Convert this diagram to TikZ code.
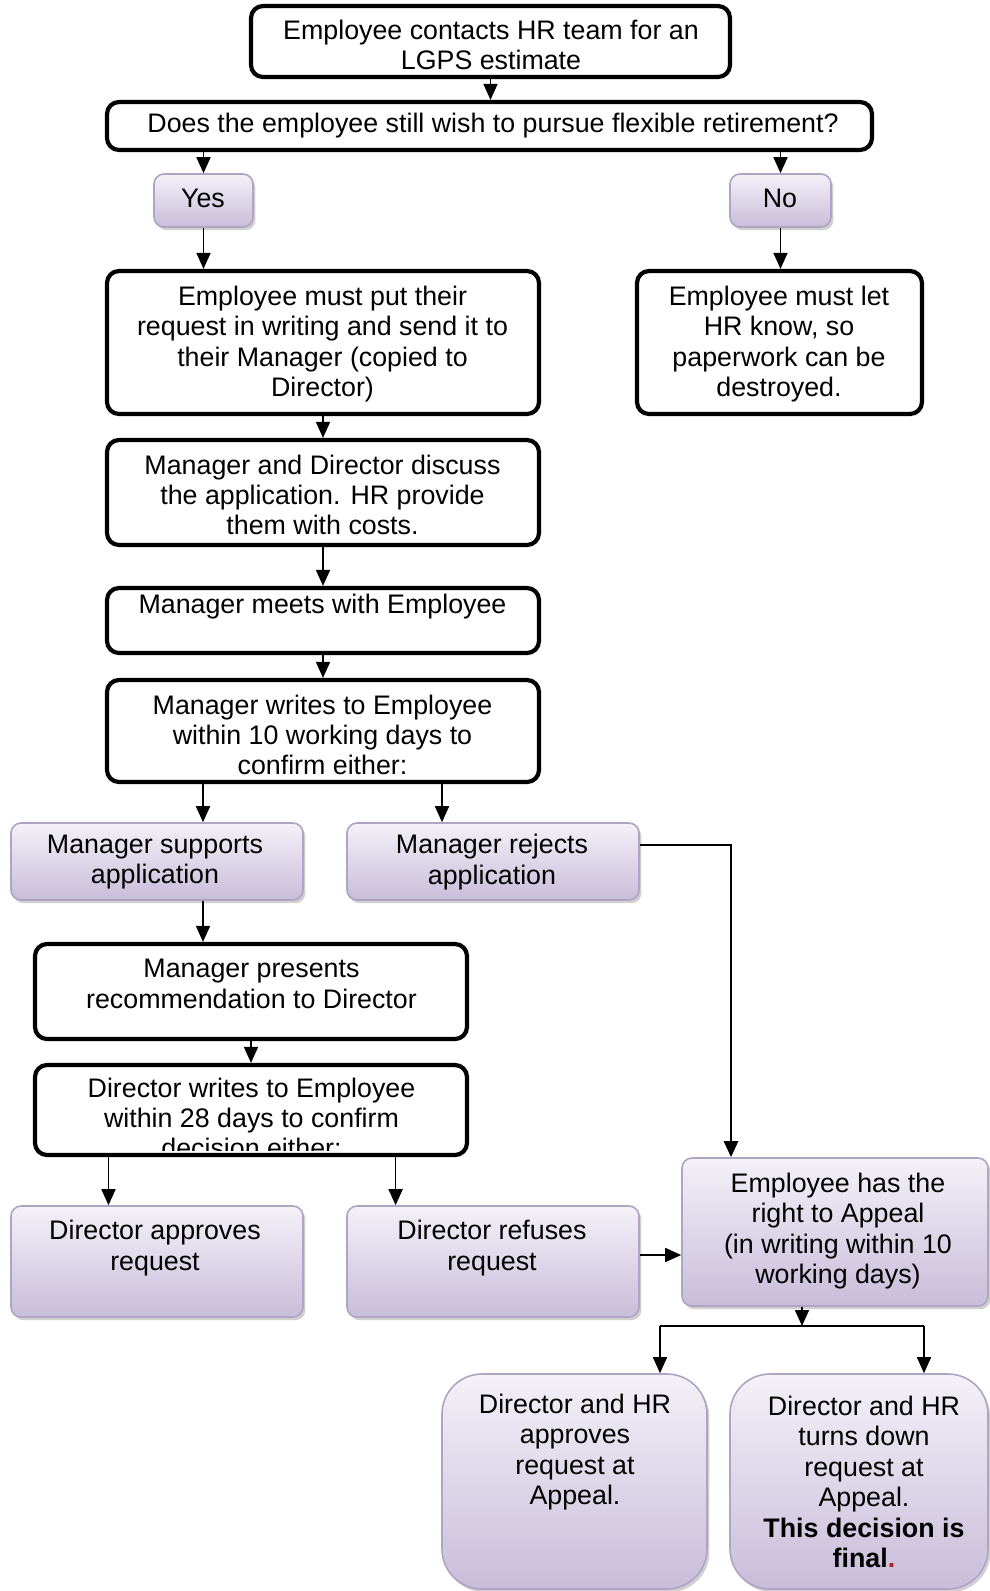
\documentclass[tikz,border=0pt]{standalone}
\usepackage{fontspec}
\setmainfont{Liberation Sans}
\usetikzlibrary{arrows.meta,shadows,calc}
\definecolor{lavtop}{HTML}{F4F1F8}
\definecolor{lavbot}{HTML}{C8BDDA}
\definecolor{lavedge}{HTML}{B0A3C4}
\definecolor{finalred}{HTML}{B02020}
\newcommand{\pbox}[6]{%
  \node[#1, minimum width={(#5-#3)*0.5pt}, minimum height={(#6-#4)*0.5pt}, inner sep=0pt] (#2) at ({(#3+#5)/2},{(#4+#6)/2}) {};}
\tikzset{
  whitebox/.style={draw=black, line width=2.1pt, rounded corners=6pt, fill=white},
  shadebox/.style={draw=lavedge, line width=0.8pt, rounded corners=5pt, top color=lavtop, bottom color=lavbot,
     drop shadow={shadow xshift=1.2pt, shadow yshift=-1.6pt, fill=black!30, opacity=0.6}},
  bigshade/.style={shadebox, rounded corners=20pt},
  txt/.style={align=center, font=\fontsize{13.4}{15.2}\selectfont, inner sep=0pt},
  conn/.style={line width=0.8pt, -{Triangle[length=8pt,width=7pt]}},
  heavy/.style={line width=1.3pt}
}
\begin{document}
\begin{tikzpicture}[x=0.5pt,y=-0.5pt]
\fill[white] (0,0) rectangle (990,1591);
\useasboundingbox (0,0) rectangle (990,1591);
% boxes
\pbox{whitebox}{b1}{251}{6}{730}{77}
\pbox{whitebox}{b2}{107}{102}{872}{150}
\pbox{shadebox}{yes}{154}{174}{253}{227}
\pbox{shadebox}{no}{730}{174}{831}{227}
\pbox{whitebox}{b4}{107}{271}{539}{414}
\pbox{whitebox}{no2}{637}{271}{922}{414}
\pbox{whitebox}{b5}{107}{440}{539}{545}
\pbox{whitebox}{b6}{107}{588}{539}{653}
\pbox{whitebox}{b7}{107}{680}{539}{782}
\pbox{shadebox}{ms}{11}{823}{303}{900}
\pbox{shadebox}{mr}{347}{823}{639}{900}
\pbox{whitebox}{b9}{35}{944}{467}{1039}
\pbox{whitebox}{b10}{35}{1065}{467}{1155}
\pbox{shadebox}{da}{11}{1206}{303}{1317}
\pbox{shadebox}{dr}{347}{1206}{639}{1317}
\pbox{shadebox}{ap}{682}{1158}{988}{1306}
\pbox{bigshade}{fa}{442}{1374}{707}{1589}
\pbox{bigshade}{fr}{730}{1374}{988}{1589}
% texts
\node[txt] (t1) at (491,45) {Employee contacts HR team for an\\LGPS estimate};
\node[txt] (t2) at (493,126) {Does the employee still wish to pursue flexible retirement?};
\node[txt] (tyes) at (203,198) {Yes};
\node[txt] (tno) at (780,198) {No};
\node[txt] (t4) at (322.5,344) {Employee must put their\\request in writing and send it to\\their Manager (copied to\\Director)};
\node[txt] (tno2) at (779,344) {Employee must let\\HR know, so\\paperwork can be\\destroyed.};
\node[txt] (t5) at (322.5,495) {Manager and Director discuss\\the application. HR provide\\them with costs.};
\node[txt] (t6) at (322.5,607) {Manager meets with Employee};
\node[txt] (t7) at (322.5,735) {Manager writes to Employee\\within 10 working days to\\confirm either:};
\node[txt] (tms) at (155,862) {Manager supports\\application};
\node[txt] (tmr) at (492,862) {Manager rejects\\application};
\node[txt] (t9) at (251.5,984) {Manager presents\\recommendation to Director};
\begin{scope}
\clip (37,1067) rectangle (465,1150);
\node[txt] (t10) at (251.5,1118) {Director writes to Employee\\within 28 days to confirm\\decision either:};
\end{scope}
\node[txt] (tda) at (155,1248) {Director approves\\request};
\node[txt] (tdr) at (492,1248) {Director refuses\\request};
\node[txt] (tap) at (838,1231) {Employee has the\\right to Appeal\\(in writing within 10\\working days)};
\node[txt] (tfa) at (575,1452) {Director and HR\\approves\\request at\\Appeal.};
\node[txt] (tfr) at (864,1482) {Director and HR\\turns down\\request at\\Appeal.\\\textbf{This decision is}\\\textbf{final}{\color{finalred}\textbf{.}}};
% helper coordinates
\coordinate (xa) at (203,0);
\coordinate (xb) at (442,0);
\coordinate (xc) at (108.5,0);
\coordinate (xd) at (395.6,0);
\coordinate (xe) at (731,0);
\coordinate (sp) at (802,1326);
\coordinate (spl) at (660,1326);
\coordinate (spr) at (924,1326);
% connectors
\draw[conn] (b1.south) -- (b1.south |- b2.north);
\draw[conn] (yes.north |- b2.south) -- (yes.north);
\draw[conn] (no.north |- b2.south) -- (no.north);
\draw[conn] (yes.south) -- (yes.south |- b4.north);
\draw[conn] (no.south) -- (no.south |- no2.north);
\draw[conn] (b4.south) -- (b5.north);
\draw[conn] (b5.south) -- (b6.north);
\draw[conn] (b6.south) -- (b7.north);
\draw[conn] (b7.south -| xa) -- (ms.north -| xa);
\draw[conn] (b7.south -| xb) -- (mr.north -| xb);
\draw[conn] (ms.south -| xa) -- (b9.north -| xa);
\draw[conn] (b9.south) -- (b10.north);
\draw[conn] (b10.south -| xc) -- (da.north -| xc);
\draw[conn] (b10.south -| xd) -- (dr.north -| xd);
\draw[conn, heavy] ([yshift=8.25pt]mr.east) -| (xe |- ap.north);
\draw[conn] ([yshift=3.25pt]dr.east) -- ([yshift=3.25pt]dr.east -| ap.west);
\draw[conn] (ap.south -| sp) -- (sp);
\draw[heavy] (spl) -- (spr);
\draw[conn] (spl) -- (spl |- fa.north);
\draw[conn] (spr) -- (spr |- fr.north);
\end{tikzpicture}
\end{document}
